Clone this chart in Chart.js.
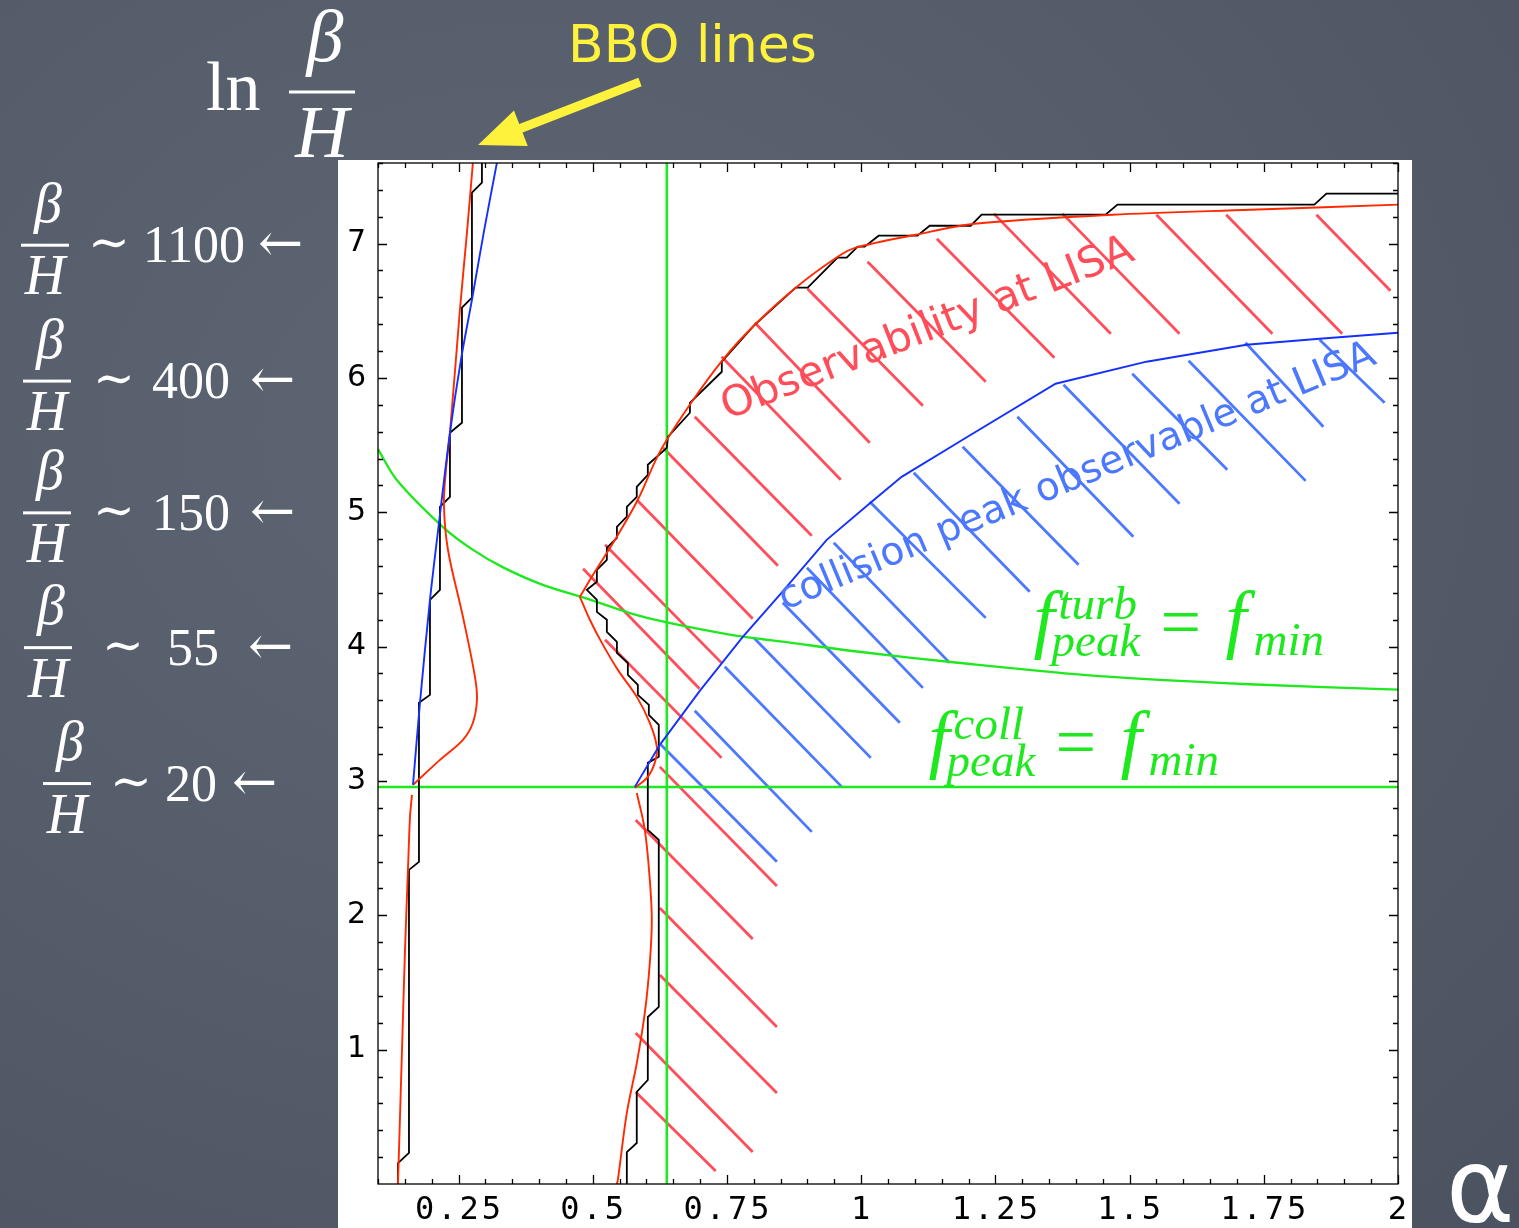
<!DOCTYPE html>
<html>
<head>
<meta charset="utf-8">
<title>LISA observability in the alpha - ln(beta/H) plane</title>
<script src="https://cdn.jsdelivr.net/npm/chart.js@4.4.1/dist/chart.umd.min.js"></script>
<style>
  html, body { margin: 0; padding: 0; }
  body {
    width: 1519px; height: 1228px; overflow: hidden; position: relative;
    background: radial-gradient(ellipse at 35% 35%, #5e6674 0%, #555d6b 50%, #4b5361 100%);
  }
  #panel { position: absolute; left: 338px; top: 160px; width: 1074px; height: 1068px; background: #fff; }
  #wrap { position: absolute; left: 0; top: 0; width: 1519px; height: 1228px; }
</style>
</head>
<body>
<div id="panel"></div>
<div id="wrap"><canvas id="lisaChart" width="1519" height="1228"></canvas></div>
<script>
// axes: x = alpha, y = ln(beta/H)
const xMin = 0.1, xMax = 2;
const yMin = 0, yMax = 7.6;
const xTicks = [0.25, 0.5, 0.75, 1, 1.25, 1.5, 1.75, 2];
const xTickLabels = ["0.25", "0.5", "0.75", "1", "1.25", "1.5", "1.75", "2"];
const yTicks = [1, 2, 3, 4, 5, 6, 7];
const yTickLabels = ["1", "2", "3", "4", "5", "6", "7"];

// beta/H values marked on the left (placed at ln of the value)
const leftRatios = [1100, 400, 150, 55, 20];

// green lines
const collLevel = 2.955;   // f_peak^coll = f_min
const alphaLine = 0.638;   // vertical green line
const turbX = [0.1, 0.135, 0.221, 0.277, 0.333, 0.407, 0.495, 0.569, 0.638, 0.755, 0.867, 1.0, 1.18, 1.444, 1.723, 2.0];
const turbY = [5.47, 5.24, 4.89, 4.72, 4.59, 4.46, 4.35, 4.25, 4.18, 4.09, 4.03, 3.96, 3.88, 3.78, 3.72, 3.68];

// BBO lines (left)
const bboBlueX = [0.1652, 0.1782, 0.1968, 0.2154, 0.234, 0.2545, 0.275, 0.2973, 0.3215];
const bboBlueY = [2.971, 3.582, 4.348, 4.981, 5.592, 6.135, 6.582, 7.089, 7.602];
const bboRedUpX = [0.1652, 0.2154, 0.2582, 0.2768, 0.2843, 0.2806, 0.2582, 0.2303, 0.2228, 0.2266, 0.234, 0.2526, 0.2657, 0.2768];
const bboRedUpY = [2.971, 3.157, 3.306, 3.433, 3.604, 3.775, 4.222, 4.721, 5.056, 5.316, 5.592, 6.508, 7.082, 7.603];
const bboRedLowX = [0.1633, 0.1596, 0.1558, 0.1503, 0.1447, 0.1372];
const bboRedLowY = [2.897, 2.733, 2.338, 1.742, 0.998, 0];
const bboStepX = [0.1372, 0.1372, 0.1577, 0.1577, 0.1763, 0.1763, 0.1968, 0.1968, 0.2154, 0.2154, 0.234, 0.234, 0.2564, 0.2564, 0.275, 0.275, 0.2936, 0.2936];
const bboStepY = [0, 0.156, 0.231, 2.338, 2.398, 3.582, 3.641, 4.348, 4.423, 5.041, 5.115, 5.592, 5.666, 6.523, 6.597, 7.379, 7.453, 7.6];

// LISA observability boundary
const lisaUpX = [0.476, 0.504, 0.5449, 0.584, 0.625, 0.6808, 0.7422, 0.8018, 0.8781, 0.9563, 0.9898, 1.1015, 1.2113, 1.4682, 1.7251, 2.0];
const lisaUpY = [4.371, 4.557, 4.818, 5.093, 5.45, 5.8, 6.135, 6.396, 6.672, 6.902, 6.97, 7.066, 7.148, 7.215, 7.252, 7.29];
const lisaMidX = [0.476, 0.4946, 0.517, 0.5468, 0.5821, 0.6063, 0.6194, 0.6156, 0.6026, 0.5784];
const lisaMidY = [4.371, 4.2, 4.028, 3.827, 3.626, 3.433, 3.254, 3.135, 3.031, 2.949];
const lisaLowX = [0.5821, 0.597, 0.6063, 0.61, 0.6063, 0.597, 0.5821, 0.5635, 0.5468, 0.545];
const lisaLowY = [2.911, 2.636, 2.264, 1.966, 1.646, 1.273, 0.901, 0.529, 0.03, 0];
const lisaStepX = [0.5635, 0.5635, 0.582, 0.582, 0.6026, 0.6026, 0.623, 0.623, 0.6026, 0.6026, 0.623, 0.623, 0.6045, 0.6045, 0.584, 0.584,
  0.5654, 0.5654, 0.545, 0.545, 0.5263, 0.5263, 0.5077, 0.5077, 0.489, 0.5077, 0.5077, 0.5263, 0.5263, 0.545, 0.545, 0.5635, 0.5635,
  0.582, 0.582, 0.6026, 0.6026, 0.638, 0.64, 0.681, 0.681, 0.7404, 0.7404, 0.8018, 0.878, 0.9004, 0.956, 0.973, 0.9935, 1.0066,
  1.0326, 1.105, 1.1276, 1.204, 1.2244, 1.4552, 1.4775, 1.8442, 1.8666, 2.0];
const lisaStepY = [0, 0.238, 0.305, 0.685, 0.774, 1.243, 1.318, 2.561, 2.636, 3.135, 3.18, 3.418, 3.492, 3.567, 3.641, 3.716,
  3.79, 3.879, 3.954, 4.036, 4.11, 4.2, 4.259, 4.348, 4.423, 4.483, 4.572, 4.646, 4.736, 4.81, 4.892, 4.967, 5.041,
  5.115, 5.19, 5.279, 5.354, 5.48, 5.562, 5.741, 5.815, 6.046, 6.121, 6.396, 6.672, 6.672, 6.895, 6.895, 6.977, 6.977,
  7.059, 7.059, 7.133, 7.133, 7.215, 7.215, 7.29, 7.29, 7.372, 7.372];

// collision peak observable boundary
const collX = [0.5784, 0.625, 0.6994, 0.7795, 0.8483, 0.9358, 1.0196, 1.0754, 1.189, 1.3621, 1.5315, 1.7177, 1.8535, 2.0];
const collY = [2.956, 3.269, 3.671, 4.073, 4.386, 4.795, 5.078, 5.264, 5.54, 5.957, 6.121, 6.247, 6.292, 6.337];

// hatch strokes [x1, y1, x2, y2]
const redHatch = [
  [0.690, 5.711, 0.908, 4.825], [0.740, 6.158, 0.962, 5.242], [0.802, 6.411, 1.016, 5.518],
  [0.900, 6.664, 1.115, 5.793], [1.012, 6.865, 1.232, 5.972], [1.141, 7.036, 1.360, 6.150],
  [1.247, 7.223, 1.465, 6.329], [1.375, 7.223, 1.593, 6.329], [1.550, 7.215, 1.766, 6.329],
  [1.680, 7.215, 1.896, 6.329], [1.848, 7.215, 1.986, 6.649], [0.631, 5.480, 0.845, 4.602],
  [0.582, 5.093, 0.798, 4.207], [0.523, 4.758, 0.740, 3.879], [0.482, 4.579, 0.699, 3.686],
  [0.523, 4.051, 0.740, 3.172], [0.625, 3.105, 0.843, 2.219], [0.580, 2.710, 0.798, 1.824],
  [0.625, 2.055, 0.843, 1.169], [0.625, 1.556, 0.843, 0.678], [0.580, 1.124, 0.798, 0.238],
  [0.580, 0.685, 0.729, 0.097]
];
const blueHatch = [
  [0.627, 3.269, 0.843, 2.398], [0.690, 3.522, 0.908, 2.621], [0.746, 3.850, 0.964, 2.956],
  [0.800, 4.066, 1.018, 3.172], [0.854, 4.326, 1.072, 3.433], [0.899, 4.587, 1.115, 3.693],
  [0.949, 4.773, 1.165, 3.879], [1.016, 5.078, 1.232, 4.214], [1.098, 5.294, 1.314, 4.408],
  [1.189, 5.488, 1.405, 4.609], [1.291, 5.711, 1.507, 4.818], [1.377, 5.949, 1.593, 5.063],
  [1.505, 6.031, 1.682, 5.316], [1.610, 6.128, 1.828, 5.234], [1.716, 6.262, 1.861, 5.637],
  [1.854, 6.284, 1.975, 5.815]
];

const RED = "#ff2a00", RED_H = "#ff4d5a", BLUE = "#1430ff", BLUE_H = "#4c78ff", GREEN = "#1ee81e";

const pts = (xs, ys) => xs.map((v, i) => ({ x: v, y: ys[i] }));

function curve(xs, ys, color, width, tension, order) {
  return { data: pts(xs, ys), borderColor: color, borderWidth: width, showLine: true,
    pointRadius: 0, tension: tension, order: order };
}
function hatch(s, color) {
  return { data: [{ x: s[0], y: s[1] }, { x: s[2], y: s[3] }], borderColor: color, borderWidth: 2.8,
    showLine: true, pointRadius: 0, tension: 0, order: 6 };
}

const datasets = [
  ...redHatch.map(s => hatch(s, RED_H)),
  ...blueHatch.map(s => hatch(s, BLUE_H)),
  curve([xMin, xMax], [collLevel, collLevel], GREEN, 2.6, 0, 3),
  curve([alphaLine, alphaLine], [yMin, yMax], GREEN, 2.6, 0, 3),
  curve(turbX, turbY, GREEN, 2.3, 0.3, 3),
  curve(bboStepX, bboStepY, "#000", 1.8, 0, 2),
  curve(lisaStepX, lisaStepY, "#000", 1.8, 0, 2),
  curve(bboBlueX, bboBlueY, BLUE, 1.9, 0.3, 1),
  curve(collX, collY, BLUE, 1.9, 0, 1),
  curve(bboRedUpX, bboRedUpY, RED, 1.9, 0.35, 1),
  curve(bboRedLowX, bboRedLowY, RED, 1.9, 0.3, 1),
  curve(lisaUpX, lisaUpY, RED, 1.9, 0.3, 1),
  curve(lisaMidX, lisaMidY, RED, 1.9, 0.35, 1),
  curve(lisaLowX, lisaLowY, RED, 1.9, 0.35, 1)
];

function drawFrac(ctx, cx, barY, w, fs) {
  ctx.fillRect(cx - w / 2, barY - 1.5, w, 3);
  ctx.textAlign = "center";
  ctx.textBaseline = "alphabetic";
  ctx.font = `italic ${fs}px "Liberation Serif"`;
  ctx.fillText("β", cx + 3, barY - 0.42 * fs);
  ctx.fillText("H", cx, barY + 0.88 * fs);
}

function drawFpeak(ctx, x0, y0, sup) {
  ctx.textAlign = "left";
  ctx.textBaseline = "alphabetic";
  ctx.font = 'italic 76px "Liberation Serif"';
  ctx.fillText("f", x0 + 4, y0);
  ctx.fillText("f", x0 + 196, y0);
  ctx.font = 'italic 47px "Liberation Serif"';
  ctx.fillText(sup, x0 + 29, y0 - 25);
  ctx.fillText("peak", x0 + 22, y0 + 12);
  ctx.fillText("min", x0 + 224, y0 + 11);
  ctx.font = '72px "Liberation Serif"';
  ctx.fillText("=", x0 + 131, y0 + 2);
}

// x positions of the pieces of each left-hand label
const leftLayout = [
  { cx: 45, tilde: 90, num: 143, arrow: 258 },
  { cx: 47, tilde: 95, num: 152, arrow: 250 },
  { cx: 47, tilde: 95, num: 152, arrow: 250 },
  { cx: 48, tilde: 104, num: 167, arrow: 248 },
  { cx: 67, tilde: 112, num: 165, arrow: 232 }
];

const paperPlugin = {
  id: "paper",
  afterDraw(chart) {
    const { ctx, chartArea: a, scales: { x, y } } = chart;
    ctx.save();

    // frame and inward ticks
    ctx.strokeStyle = "#000";
    ctx.lineWidth = 1.3;
    ctx.strokeRect(a.left, a.top, a.right - a.left, a.bottom - a.top);
    ctx.beginPath();
    for (let i = 2; i <= 40; i++) {
      const v = i * 0.05;
      const px = Math.round(x.getPixelForValue(v)) + 0.5;
      const len = xTicks.some(t => Math.abs(t - v) < 1e-6) ? 9 : 5;
      ctx.moveTo(px, a.bottom); ctx.lineTo(px, a.bottom - len);
      ctx.moveTo(px, a.top); ctx.lineTo(px, a.top + len);
    }
    for (let i = 1; i <= 38; i++) {
      const v = i * 0.2;
      const py = Math.round(y.getPixelForValue(v)) + 0.5;
      const len = Math.abs(v - Math.round(v)) < 1e-6 ? 9 : 5;
      ctx.moveTo(a.left, py); ctx.lineTo(a.left + len, py);
      ctx.moveTo(a.right, py); ctx.lineTo(a.right - len, py);
    }
    ctx.stroke();

    // tick labels
    ctx.fillStyle = "#000";
    ctx.font = '32px "DejaVu Sans Mono"';
    ctx.letterSpacing = "3px";
    ctx.textAlign = "center";
    ctx.textBaseline = "middle";
    xTicks.forEach((v, i) => ctx.fillText(xTickLabels[i], x.getPixelForValue(v) + 1, a.bottom + 27));
    ctx.letterSpacing = "0px";
    ctx.font = '30px "DejaVu Sans"';
    ctx.textAlign = "right";
    yTicks.forEach((v, i) => ctx.fillText(yTickLabels[i], a.left - 12, y.getPixelForValue(v)));

    // region captions
    const caption = (text, vx, vy, deg, color, size) => {
      ctx.save();
      ctx.translate(x.getPixelForValue(vx), y.getPixelForValue(vy));
      ctx.rotate(-deg * Math.PI / 180);
      ctx.fillStyle = color;
      ctx.font = `${size}px "DejaVu Sans"`;
      ctx.textAlign = "center";
      ctx.textBaseline = "middle";
      ctx.fillText(text, 0, 0);
      ctx.restore();
    };
    caption("Observability at LISA", 1.124, 6.36, 21.4, RED_H, 42);
    caption("collision peak observable at LISA", 1.403, 5.26, 22.6, BLUE_H, 39);

    ctx.fillStyle = GREEN;
    drawFpeak(ctx, x.getPixelForValue(1.3137), y.getPixelForValue(4.021), "turb");
    drawFpeak(ctx, x.getPixelForValue(1.1182), y.getPixelForValue(3.127), "coll");

    // left side: beta/H values at ln(beta/H)
    ctx.fillStyle = "#fff";
    leftRatios.forEach((r, i) => {
      const barY = y.getPixelForValue(Math.log(r)) + 2;
      const L = leftLayout[i];
      drawFrac(ctx, L.cx, barY, 48, 56);
      ctx.textAlign = "left";
      ctx.textBaseline = "alphabetic";
      ctx.font = '50px "DejaVu Serif"';
      ctx.fillText("∼", L.tilde - 2, barY + 14);
      ctx.font = '52px "Liberation Serif"';
      ctx.fillText(String(r), L.num, barY + 17);
      ctx.font = '54px "DejaVu Serif"';
      ctx.fillText("←", L.arrow, barY + 16);
    });

    // y axis title: ln beta/H
    ctx.textAlign = "left";
    ctx.font = '70px "Liberation Serif"';
    ctx.fillText("ln", 206, 110);
    drawFrac(ctx, 322, 92, 66, 74);

    // x axis title
    ctx.textAlign = "left";
    ctx.font = '104px "DejaVu Sans"';
    ctx.fillText("α", 1446, 1222);

    // BBO lines note with arrow
    ctx.fillStyle = "#fff23c";
    ctx.font = '52px "DejaVu Sans"';
    ctx.fillText("BBO lines", 568, 62);
    const tail = [640, 82], tip = [478, 145];
    const dx = tip[0] - tail[0], dy = tip[1] - tail[1];
    const d = Math.hypot(dx, dy), ux = dx / d, uy = dy / d;
    const bx = tip[0] - 46 * ux, by = tip[1] - 46 * uy;
    ctx.strokeStyle = "#fff23c";
    ctx.lineWidth = 9;
    ctx.beginPath();
    ctx.moveTo(tail[0], tail[1]);
    ctx.lineTo(bx + 4 * ux, by + 4 * uy);
    ctx.stroke();
    ctx.beginPath();
    ctx.moveTo(tip[0], tip[1]);
    ctx.lineTo(bx - 19 * uy, by + 19 * ux);
    ctx.lineTo(bx + 19 * uy, by - 19 * ux);
    ctx.closePath();
    ctx.fill();

    ctx.restore();
  }
};

new Chart(document.getElementById("lisaChart"), {
  type: "scatter",
  data: { datasets: datasets },
  options: {
    responsive: false,
    animation: false,
    devicePixelRatio: 1,
    layout: { padding: { left: 378, top: 163, right: 121, bottom: 44 } },
    scales: {
      x: { type: "linear", min: xMin, max: xMax, display: false },
      y: { type: "linear", min: yMin, max: yMax, display: false }
    },
    plugins: { legend: { display: false }, tooltip: { enabled: false } }
  },
  plugins: [paperPlugin]
});
</script>
</body>
</html>
